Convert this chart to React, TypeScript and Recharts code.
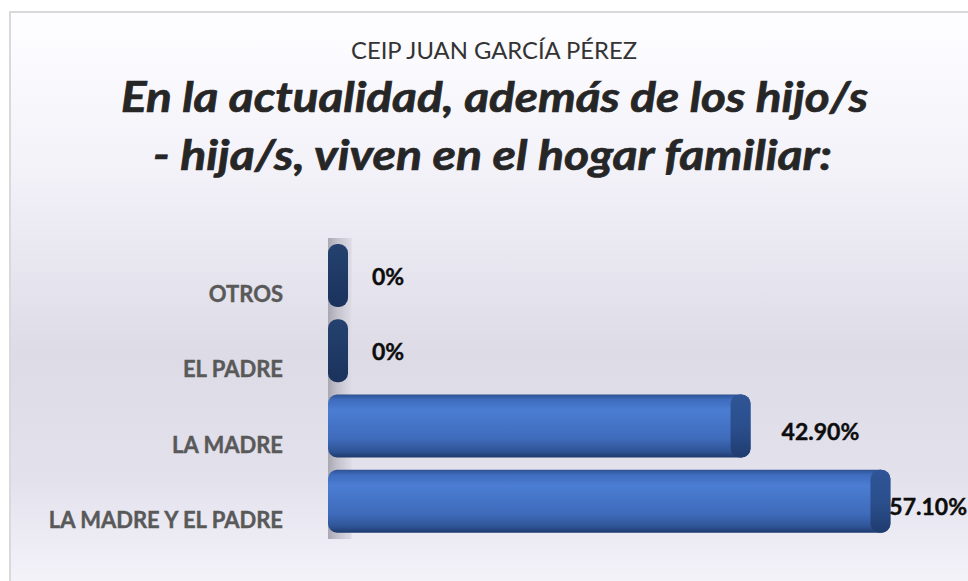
import { Bar, BarChart, LabelList, ReferenceArea, XAxis, YAxis } from 'recharts';

// top to bottom, as drawn
const categories = ['OTROS', 'EL PADRE', 'LA MADRE', 'LA MADRE Y EL PADRE'];
const percents = [0, 0, 42.9, 57.1];
const percentLabels = ['0%', '0%', '42.90%', '57.10%'];

const data = categories.map((name, i) => ({
  name,
  value: percents[i],
  label: percentLabels[i],
}));

const FONT = 'Lato, "Open Sans", sans-serif';
const W = 968;
const H = 581;
const CAP = 20;

function Cylinder(props: any) {
  const { x, y, width, height } = props;
  if (width < CAP + 2) {
    return <rect x={x} y={y} width={CAP} height={height} rx={9} fill="url(#zeroGrad)" />;
  }
  return (
    <g>
      <rect x={x} y={y} width={width} height={height} rx={9} fill="url(#bodyGrad)" />
      <rect x={x + width - CAP} y={y} width={CAP} height={height} rx={9} fill="url(#capGrad)" />
    </g>
  );
}

function CategoryTick({ x, y, payload }: any) {
  return (
    <text
      x={x}
      y={y + 18}
      textAnchor="end"
      dominantBaseline="central"
      fontFamily={FONT}
      fontWeight={700}
      fontSize={22}
      fill="#595959"
      stroke="#595959"
      strokeWidth={0.4}
    >
      {payload.value}
    </text>
  );
}

function ValueLabel(props: any) {
  const vb = props.viewBox ?? props;
  const x = vb.x ?? props.x;
  const y = vb.y ?? props.y;
  const width = vb.width ?? props.width ?? 0;
  const height = vb.height ?? props.height ?? 0;
  const big = width > CAP;
  const end = x + Math.max(width, CAP);
  let tx = end + (big ? 31 : 24);
  let anchor: 'start' | 'end' = 'start';
  if (tx + 80 > W) {
    tx = W - 1;
    anchor = 'end';
  }
  return (
    <text
      x={tx}
      y={y + height / 2 + (big ? 5 : 0)}
      textAnchor={anchor}
      dominantBaseline="central"
      fontFamily={FONT}
      fontWeight={700}
      fontSize={23}
      fill="#0d0d0d"
      stroke="#0d0d0d"
      strokeWidth={0.4}
    >
      {props.value}
    </text>
  );
}

export default function App() {
  return (
    <div
      style={{
        position: 'absolute',
        left: 0,
        top: 0,
        width: W,
        height: H,
        overflow: 'hidden',
        background: '#ffffff',
      }}
    >
      <div
        style={{
          position: 'absolute',
          left: 9,
          top: 11,
          width: 1000,
          height: 620,
          border: '2px solid #d9d9d9',
          background:
            'linear-gradient(to bottom, #fefdff 0%, #f3f2f9 25%, #dddbe6 55%, #e3e1ec 75%, #f7f6fc 95%, #fbfaff 100%)',
        }}
      />
      <svg width={W} height={200} style={{ position: 'absolute', left: 0, top: 0 }}>
        <text
          x={494}
          y={59}
          textAnchor="middle"
          fontFamily={FONT}
          fontSize={23}
          fill="#333333"
          textLength={286}
          lengthAdjust="spacingAndGlyphs"
        >
          CEIP JUAN GARCÍA PÉREZ
        </text>
        <text
          x={494.5}
          y={112}
          textAnchor="middle"
          fontFamily={FONT}
          fontSize={42}
          fontWeight={700}
          fontStyle="italic"
          fill="#262626"
          stroke="#262626"
          strokeWidth={0.7}
          textLength={747}
          lengthAdjust="spacingAndGlyphs"
        >
          En la actualidad, además de los hijo/s
        </text>
        <text
          x={492.5}
          y={170}
          textAnchor="middle"
          fontFamily={FONT}
          fontSize={42}
          fontWeight={700}
          fontStyle="italic"
          fill="#262626"
          stroke="#262626"
          strokeWidth={0.7}
          textLength={679}
          lengthAdjust="spacingAndGlyphs"
        >
          - hija/s, viven en el hogar familiar:
        </text>
      </svg>
      <div style={{ position: 'absolute', left: 0, top: 0 }}>
        <BarChart
          width={W}
          height={H}
          data={data}
          layout="vertical"
          margin={{ top: 238, right: 49, bottom: 42, left: 0 }}
          barSize={63}
        >
          <defs>
            <linearGradient id="bodyGrad" x1="0" y1="0" x2="0" y2="1">
              <stop offset="0%" stopColor="#2d5193" />
              <stop offset="8%" stopColor="#3f6cbd" />
              <stop offset="25%" stopColor="#4a7dd3" />
              <stop offset="70%" stopColor="#3f6bbb" />
              <stop offset="90%" stopColor="#2f5496" />
              <stop offset="100%" stopColor="#1e3a6c" />
            </linearGradient>
            <linearGradient id="capGrad" x1="0" y1="0" x2="0" y2="1">
              <stop offset="0%" stopColor="#2f5596" />
              <stop offset="50%" stopColor="#2b4f8d" />
              <stop offset="100%" stopColor="#1f3c70" />
            </linearGradient>
            <linearGradient id="zeroGrad" x1="0" y1="0" x2="0" y2="1">
              <stop offset="0%" stopColor="#24416f" />
              <stop offset="100%" stopColor="#1b335d" />
            </linearGradient>
            <linearGradient id="wallGrad" x1="0" y1="0" x2="1" y2="0">
              <stop offset="0%" stopColor="#a9a7b1" />
              <stop offset="40%" stopColor="#c4c2cc" />
              <stop offset="100%" stopColor="#dedce6" />
            </linearGradient>
          </defs>
          <XAxis type="number" domain={[0, 60]} hide />
          <YAxis
            type="category"
            dataKey="name"
            width={328}
            axisLine={false}
            tickLine={false}
            tickSize={0}
            tickMargin={45}
            tick={<CategoryTick />}
          />
          <ReferenceArea x1={0} x2={2.4} fill="url(#wallGrad)" fillOpacity={1} stroke="none" />
          <Bar dataKey="value" shape={<Cylinder />} isAnimationActive={false}>
            <LabelList dataKey="label" content={<ValueLabel />} />
          </Bar>
        </BarChart>
      </div>
    </div>
  );
}
